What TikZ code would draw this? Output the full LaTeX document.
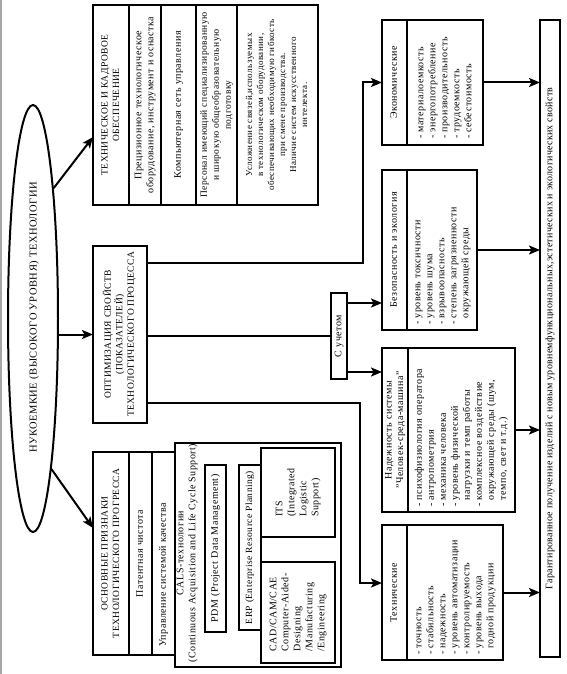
\documentclass[tikz,border=0pt]{standalone}
\usepackage{fontspec}
\setmainfont{Liberation Serif}[LetterSpace=5]
\usepackage{graphicx}
\usetikzlibrary{arrows.meta,shapes.geometric,calc,fit}
\newcommand{\rc}[1]{\rotatebox{90}{\begin{tabular}{@{}c@{}}#1\end{tabular}}}
\newcommand{\rl}[1]{\rotatebox{90}{\begin{tabular}{@{}l@{}}#1\end{tabular}}}
\newcommand{\ind}{\phantom{- }}
\begin{document}
\begin{tikzpicture}[x=1pt,y=-1pt,
  box/.style={draw, line width=2pt, rectangle, inner sep=0pt, outer sep=0pt},
  txt/.style={font=\fontsize{10}{12}\selectfont, inner sep=0pt},
  capsty/.style={font=\fontsize{9.5}{11.5}\selectfont, inner sep=0pt},
  sml/.style={font=\fontsize{9}{11}\selectfont, inner sep=0pt},
  conn/.style={line width=2pt},
  arr/.style={line width=2pt, -{Stealth[length=11pt,width=9pt,inset=2.5pt]}}]
\useasboundingbox (0,0) rectangle (566,674);
\draw[gray!70, line width=1.5pt] (1,0) -- (1,674);

% ellipse
\node[draw, ellipse, line width=2pt, minimum width=50pt, minimum height=427pt, inner sep=0pt] (ell) at (33,318.5) {};
\node[font=\fontsize{10.5}{12}\selectfont, inner sep=0pt] (elltxt) at (34,317.5) {\rotatebox{90}{НУКОЕМКИЕ (ВЫСОКОГО УРОВНЯ) ТЕХНОЛОГИИ}};

% top group
\node[box, fit={(93,5)(129,205)}] (t1) {};
\node[capsty] (t1t) at (t1) {\rc{ТЕХНИЧЕСКОЕ И КАДРОВОЕ\\ОБЕСПЕЧЕНИЕ}};
\node[box, fit={(129,5)(161,205)}] (t2) {};
\node[txt] (t2t) at (t2) {\rc{Прецизионное технологическое\\оборудование, инструмент и оснастка}};
\node[box, fit={(161,5)(196,205)}] (t3) {};
\node[txt] (t3t) at (t3) {\rc{Компьютерная сеть управления}};
\node[box, fit={(196,5)(237,205)}] (t4) {};
\node[font=\fontsize{9.5}{12}\selectfont, inner sep=0pt] (t4t) at (t4) {\rc{Персонал имеющий специализированную\\и широкую общеобразовательную\\подготовку}};
\node[box, fit={(237,5)(318,205)}] (t5) {};
\node[sml] (t5t) at (t5) {\rc{Усложнение связей,используемых\\в технологическом оборудовании,\\обеспечивающих необходимую гибкость\\при смене производства.\\Наличие систем искусственного\\интелекта.}};

% middle
\node[box, fit={(93,246)(147,423)}] (opt) {};
\node[capsty] (optt) at (opt) {\rc{ОПТИМИЗАЦИЯ СВОЙСТВ\\(ПОКАЗАТЕЛЕЙ)\\ТЕХНОЛОГИЧЕСКОГО ПРОЦЕССА}};

% bottom group
\node[box, fit={(93,452)(129,655)}] (b1) {};
\node[capsty] (b1t) at (b1) {\rc{ОСНОВНЫЕ ПРИЗНАКИ\\ТЕХНОЛОГИЧЕСКОГО ПРОГРЕССА}};
\node[box, fit={(129,452)(152,655)}] (b2) {};
\node[txt] (b2t) at (b2) {\rc{Патентная чистота}};
\node[box, fit={(152,452)(175,655)}] (b3) {};
\node[txt, anchor=south] (b3t) at (163.5,647) {\rc{Управление системой качества}};
\node[box, fit={(175,443)(341,667)}] (cals) {};
\node[txt] (calst) at (187,553) {\rc{CALS-технологии\\(Continuous Acquisition and Life Cycle Support)}};
\node[box, fit={(205,465)(226,632)}] (pdm) {};
\node[txt] (pdmt) at (pdm) {\rc{PDM (Project Data Management)}};
\node[box, fit={(239,465)(261,630)}] (erp) {};
\node[font=\fontsize{9.5}{11}\selectfont, inner sep=0pt] (erpt) at (erp) {\rc{ERP (Enterprise Resource Planning)}};
\node[box, fit={(261,448)(335,537)}] (its) {};
\node[txt] (itst) at (its) {\rl{ITS\\(Integrated\\Logistic\\Support)}};
\node[box, fit={(261,562)(335,663)}] (cad) {};
\node[txt] (cadt) at (cad) {\rl{CAD/CAM/CAE\\Computer-Aided-\\Designing\\/Manufacturing\\/Engineering}};

% s uchetom
\node[box, fit={(331,293)(347,379)}] (su) {};
\node[txt] (sut) at (su) {\rc{С учетом}};

% right column
\node[box, fit={(382,20)(407,145)}] (e1) {};
\node[txt] (e1t) at (e1) {\rc{Экономические}};
\node[box, fit={(407,20)(483,145)}] (e2) {};
\node[txt, anchor=south] (e2t) at (445,139) {\rl{- материалоемкость\\- энергопотребление\\- производительность\\- трудоемкость\\- себестоимость}};

\node[box, fit={(382,170)(407,330)}] (z1) {};
\node[txt] (z1t) at (z1) {\rc{Безопасность и экология}};
\node[box, fit={(407,170)(477,330)}] (z2) {};
\node[txt, anchor=south] (z2t) at (442,325) {\rl{- уровень токсичности\\- уровень шума\\- взрывоопасность\\- степень загрязненности\\\ind окружающей среды}};

\node[box, fit={(382,348)(408,512)}] (n1) {};
\node[font=\fontsize{10}{11.5}\selectfont, inner sep=0pt] (n1t) at (n1) {\rc{Надежность системы\\"Человек-среда-машина"}};
\node[box, fit={(408,348)(515,512)}] (n2) {};
\node[txt, anchor=south] (n2t) at (461.5,507) {\rl{- психофизиология оператора\\- антропометрия\\- механика человека\\- уровень физической\\\ind нагрузки и темп работы\\- комплексное воздействие\\\ind окружающей среды (шум,\\\ind темпо, свет и т.д.)}};

\node[box, fit={(382,525)(407,660)}] (h1) {};
\node[txt] (h1t) at (h1) {\rc{Технические}};
\node[box, fit={(407,525)(503,660)}] (h2) {};
\node[txt, anchor=south] (h2t) at (455,655) {\rl{- точность\\- стабильность\\- надежность\\- уровень автоматизации\\- контролируемость\\- уровень выхода\\\ind годной продукции}};

\node[box, fit={(540,20)(560,657)}] (fin) {};
\node[txt] (fint) at (fin) {\addfontfeature{LetterSpace=3}\rc{Гарантированное получение изделий с новым уровнемфункциональных,эстетических и экологических свойств}};

% connectors from ellipse
\draw[arr] (ell.81) -- ([yshift=-32pt]t1.west);
\draw[arr] (ell.east |- opt.west) -- (opt.west);
\draw[arr] (ell.-83) -- ([yshift=25.5pt]b1.west);

% from optimisation
\coordinate (o1) at ([yshift=71.5pt]opt.east);
\coordinate (o3) at ([yshift=-68.5pt]opt.east);
\coordinate (ea) at ([xshift=-19pt]e1.west);
\coordinate (ta) at ([xshift=-22pt,yshift=9.5pt]h1.west);
\coordinate (tb) at ([yshift=9.5pt]h1.west);
\draw[arr] (o1) -| (ea) -- (e1.west);
\draw[arr] (o3) -| (ta) -- (tb);
\draw[conn] (opt.east |- su.west) -- (su.west);
\coordinate (s1) at ([yshift=33pt]su.east);
\coordinate (s2) at ([yshift=-36pt]su.east);
\draw[arr] (s1) -- (s1 -| z1.west);
\draw[arr] (s2) -- (s2 -| n1.west);

% to final
\draw[arr] (e2.east) -- (e2.east -| fin.west);
\draw[arr] (z2.east) -- (z2.east -| fin.west);
\draw[arr] (n2.east) -- (n2.east -| fin.west);
\draw[arr] (h2.east) -- (h2.east -| fin.west);
\end{tikzpicture}
\end{document}
